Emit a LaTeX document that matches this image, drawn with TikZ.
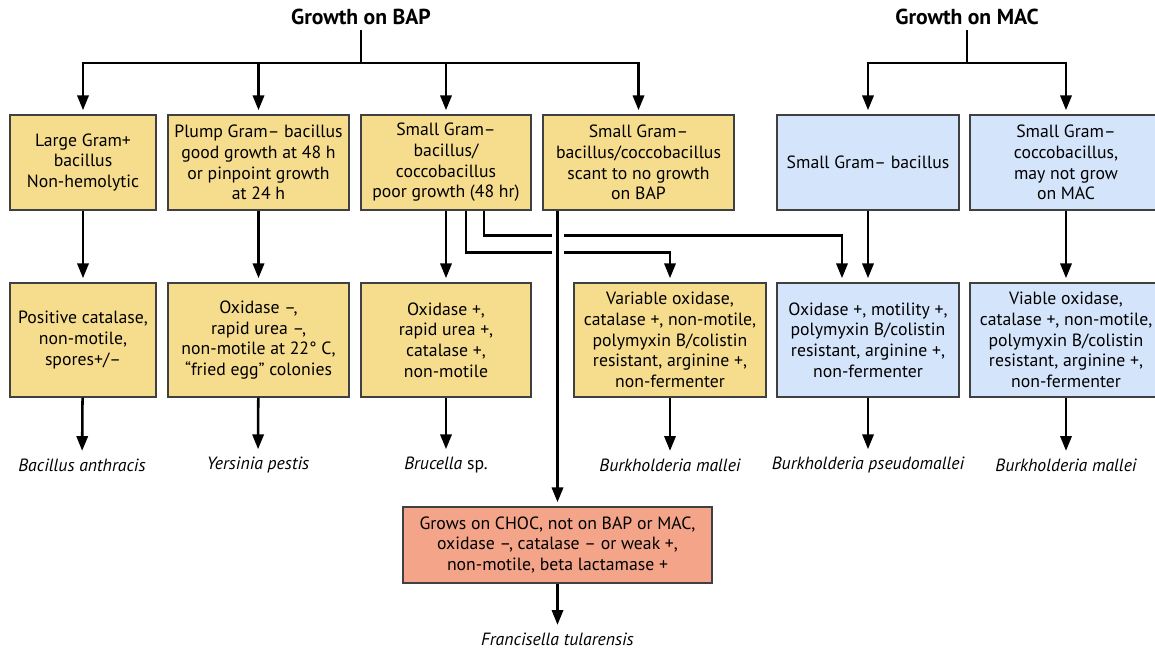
\documentclass[tikz,border=0pt]{standalone}
\usepackage{fontspec}
\setmainfont{PT Sans}
\usetikzlibrary{arrows.meta,calc}
\definecolor{bapfill}{RGB}{246,221,141}
\definecolor{macfill}{RGB}{212,229,251}
\definecolor{chocfill}{RGB}{243,164,137}
\tikzset{
  box/.style={draw=black!75,line width=0.8pt,align=center,inner sep=2pt,
    font=\fontsize{12.6}{14.7}\selectfont},
  bapbox/.style={box,fill=bapfill},
  macbox/.style={box,fill=macfill},
  arr/.style={line width=1.8pt,-{Triangle[length=10.5pt,width=8pt]},shorten >=3pt},
  link/.style={line width=1.8pt},
  species/.style={font=\fontsize{12.6}{14.7}\selectfont\itshape},
  head/.style={font=\fontsize{15.4}{17}\selectfont\bfseries}
}
\begin{document}
\begin{tikzpicture}[x=0.025cm,y=-0.025cm]
\useasboundingbox (0,0) rectangle (1155,650);

\node[head] (bap) at (361,17) {Growth on BAP};
\node[head] (mac) at (967,17) {Growth on MAC};
\coordinate (bapfork) at (361,63);
\coordinate (macfork) at (967,63);

\node[bapbox,minimum width=3.65cm,minimum height=2.375cm] (large) at (83,162.5) {Large Gram+\\bacillus\\Non-hemolytic};
\node[bapbox,minimum width=4.525cm,minimum height=2.375cm] (plump) at (258.5,162.5) {Plump Gram– bacillus\\good growth at 48 h\\or pinpoint growth\\at 24 h};
\node[bapbox,minimum width=4.25cm,minimum height=2.375cm] (smallbap) at (446,162.5) {Small Gram–\\bacillus/\\coccobacillus\\poor growth (48 hr)};
\node[bapbox,minimum width=4.775cm,minimum height=2.375cm] (scant) at (638.5,162.5) {Small Gram–\\bacillus/coccobacillus\\scant to no growth\\on BAP};
\node[macbox,minimum width=4.55cm,minimum height=2.375cm] (smallmac) at (868,162.5) {Small Gram– bacillus};
\node[macbox,minimum width=4.8cm,minimum height=2.375cm] (cocco) at (1066,162.5) {Small Gram–\\coccobacillus,\\may not grow\\on MAC};

\node[bapbox,minimum width=3.65cm,minimum height=2.85cm] (catalase) at (83,340) {Positive catalase,\\non-motile,\\spores+/–};
\node[bapbox,minimum width=4.525cm,minimum height=2.85cm] (oxneg) at (258.5,340) {Oxidase –,\\rapid urea –,\\non-motile at 22° C,\\“fried egg” colonies};
\node[bapbox,minimum width=4.25cm,minimum height=2.85cm] (oxpos) at (446,340) {Oxidase +,\\rapid urea +,\\catalase +,\\non-motile};
\node[bapbox,minimum width=4.8cm,minimum height=2.85cm] (varox) at (670,340) {Variable oxidase,\\catalase +, non-motile,\\polymyxin B/colistin\\resistant, arginine +,\\non-fermenter};
\node[macbox,minimum width=4.55cm,minimum height=2.85cm] (motil) at (868,340) {Oxidase +, motility +,\\polymyxin B/colistin\\resistant, arginine +,\\non-fermenter};
\node[macbox,minimum width=4.8cm,minimum height=2.85cm] (viable) at (1066,340) {Viable oxidase,\\catalase +, non-motile,\\polymyxin B/colistin\\resistant, arginine +,\\non-fermenter};

\node[box,fill=chocfill,minimum width=7.725cm,minimum height=1.9cm] (choc) at (557.5,545) {Grows on CHOC, not on BAP or MAC,\\oxidase –, catalase – or weak +,\\non-motile, beta lactamase +};

\node[species] (anthracis) at (82,465) {Bacillus anthracis};
\node[species] (pestis) at (258,465) {Yersinia pestis};
\node[species] (brucella) at (446,465) {Brucella \upshape sp.};
\node[species] (mallei) at (670,465) {Burkholderia mallei};
\node[species] (pseudo) at (868,465) {Burkholderia pseudomallei};
\node[species] (malleimac) at (1066,465) {Burkholderia mallei};
\node[species] (tularensis) at (557.5,639) {Francisella tularensis};

\draw[link] (bap) -- (bapfork);
\draw[link] (mac) -- (macfork);
\foreach \b in {large,plump,smallbap,scant}
  \draw[arr] (bapfork) -| (\b.north);
\foreach \b in {smallmac,cocco}
  \draw[arr] (macfork) -| (\b.north);

\draw[arr] (large) -- (catalase);
\draw[arr] (plump) -- (oxneg);
\draw[arr] (smallbap) -- (oxpos);
\draw[arr] ($(smallbap.south)+(20,0)$) -- ++(0,42) -| (varox.north);
\draw[arr] ($(smallbap.south)+(38,0)$) -- ++(0,25) -| ($(motil.north)+(-26,0)$);
\draw[arr] (smallmac) -- (motil);
\draw[arr] (cocco) -- (viable);
\draw[white,line width=0.3cm,shorten <=0.3cm,shorten >=6cm] (scant.south -| choc.north) -- (choc.north);
\draw[arr] (scant.south -| choc.north) -- (choc.north);

\draw[arr,shorten >=2pt] (catalase) -- (anthracis);
\draw[arr,shorten >=2pt] (oxneg) -- (pestis);
\draw[arr,shorten >=2pt] (oxpos) -- (brucella);
\draw[arr,shorten >=2pt] (varox) -- (mallei);
\draw[arr,shorten >=2pt] (motil) -- (pseudo);
\draw[arr,shorten >=2pt] (viable) -- (malleimac);
\draw[arr,shorten >=2pt] (choc) -- (tularensis);
\end{tikzpicture}
\end{document}
